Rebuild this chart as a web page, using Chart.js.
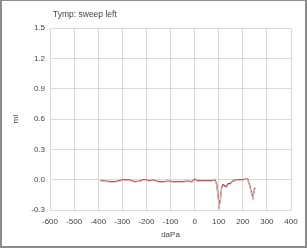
<!DOCTYPE html>
<html>
<head>
<meta charset="utf-8">
<script src="https://cdn.jsdelivr.net/npm/chart.js@4"></script>
<style>
  body { margin: 0; background: #fff; }
  #wrap { width: 307px; height: 248px; box-sizing: border-box; border: 2px solid #8c8c8c; border-top-width: 1px; }
  canvas { display: block; }
</style>
</head>
<body>
<div id="wrap"><canvas id="tymp" width="303" height="245"></canvas></div>
<script>
// pressure (daPa) and compliance (ml)
const pressure = [-390, -370, -350, -330, -310, -290, -270, -250, -230, -210, -190, -170, -150, -130, -110, -90, -70, -50, -30, -10, 0, 10, 30, 50, 70, 85, 92, 97, 102, 107, 112, 118, 125, 132, 140, 148, 155, 162, 170, 180, 190, 200, 210, 220, 228, 235, 242, 246, 250];
const volume = [-0.01, -0.015, -0.02, -0.02, -0.01, 0.0, -0.005, -0.02, -0.015, 0.0, -0.01, -0.005, -0.02, -0.02, -0.015, -0.02, -0.02, -0.02, -0.015, -0.02, 0.005, -0.01, -0.01, -0.01, -0.01, -0.005, -0.05, -0.15, -0.26, -0.2, -0.08, -0.05, -0.06, -0.07, -0.04, -0.04, -0.02, -0.01, -0.005, -0.005, 0.0, 0.0, 0.005, 0.005, -0.05, -0.12, -0.18, -0.12, -0.08];
const volumeRaw = [-0.015, -0.02, -0.025, -0.025, -0.015, -0.005, -0.01, -0.025, -0.02, -0.005, -0.015, -0.01, -0.025, -0.025, -0.02, -0.025, -0.025, -0.025, -0.02, -0.025, 0.0, -0.015, -0.015, -0.015, -0.015, -0.01, -0.06, -0.17, -0.27, -0.21, -0.09, -0.06, -0.07, -0.08, -0.05, -0.05, -0.025, -0.015, -0.01, -0.01, -0.005, -0.005, 0.0, 0.0, -0.06, -0.13, -0.19, -0.13, -0.09];

const titleText = 'Tymp: sweep left';
const font = { family: 'Liberation Sans, Arial, sans-serif', size: 8 };

const toPoints = (ys) => pressure.map((p, i) => ({ x: p, y: ys[i] }));

// title sits over the plot's left edge, not the canvas edge
const plotTitle = {
  id: 'plotTitle',
  afterDraw(chart) {
    const c = chart.ctx;
    c.save();
    c.font = '8.5px ' + font.family;
    c.fillStyle = '#444';
    c.textBaseline = 'middle';
    c.fillText(titleText, chart.chartArea.left + 3, 14);
    c.restore();
  }
};

new Chart(document.getElementById('tymp'), {
  type: 'line',
  data: {
    datasets: [{
      data: toPoints(volumeRaw),
      borderColor: '#ecc4c4',
      borderWidth: 1,
      pointRadius: 0,
      tension: 0
    }, {
      data: toPoints(volume),
      borderColor: '#8b3434',
      borderWidth: 1.3,
      pointRadius: 0,
      tension: 0
    }]
  },
  options: {
    responsive: false,
    animation: false,
    layout: { padding: { top: 27, right: 14, left: 0, bottom: 0 } },
    plugins: { legend: { display: false }, tooltip: { enabled: false } },
    scales: {
      x: {
        type: 'linear',
        min: -600, max: 400,
        ticks: { stepSize: 100, color: '#444', font, padding: 7 },
        grid: { color: '#d9d9d9', drawTicks: false },
        border: { color: '#d9d9d9' },
        title: { display: true, text: 'daPa', color: '#444', font, padding: { top: 0, bottom: 6 } },
        afterFit(s) { s.height = 36; }
      },
      y: {
        min: -0.3, max: 1.5,
        ticks: { stepSize: 0.3, color: '#444', font, padding: 5, callback: v => v.toFixed(1) },
        grid: { color: '#d9d9d9', drawTicks: false },
        border: { color: '#d9d9d9' },
        title: { display: true, text: 'ml', color: '#444', font, padding: { top: 9, bottom: 0 } },
        afterFit(s) { s.width = 48; }
      }
    }
  },
  plugins: [plotTitle]
});
</script>
</body>
</html>
